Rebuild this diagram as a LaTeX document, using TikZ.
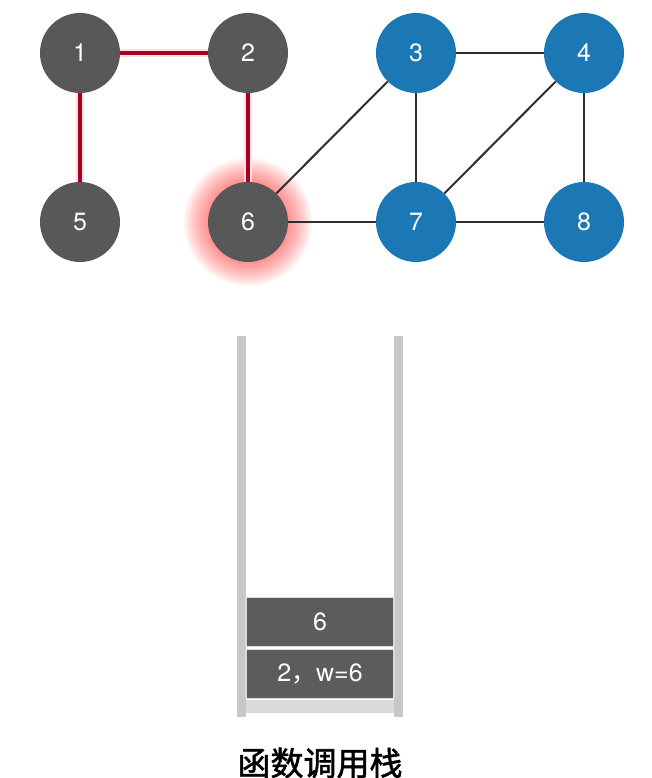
\documentclass[tikz,border=0pt]{standalone}
\usepackage{fontspec}
\setmainfont{TeX Gyre Heros}
\newfontfamily\cjk{Noto Sans CJK SC}[AutoFakeBold=1.6]
\usepackage{tikz}

\definecolor{nodegray}{RGB}{88,88,88}
\definecolor{nodeblue}{RGB}{27,120,180}
\definecolor{pathred}{RGB}{170,0,40}
\definecolor{edgegray}{RGB}{45,45,45}
\definecolor{wallgray}{RGB}{200,200,200}
\definecolor{floorgray}{RGB}{218,218,218}
\definecolor{framegray}{RGB}{92,92,92}

\tikzset{
  vgray/.style={circle, fill=nodegray, minimum size=80pt, inner sep=0pt, text=white, font=\fontsize{25}{30}\selectfont},
  vblue/.style={vgray, fill=nodeblue},
  edge/.style={line width=2pt, color=edgegray},
  redge/.style={line width=3.2pt, color=pathred},
  redhalo/.style={line width=8pt, color=red!12},
  frame/.style={fill=framegray, draw=floorgray, line width=1.5pt, minimum width=148pt, minimum height=49pt, inner sep=0pt, text=white, font=\fontsize{25}{30}\selectfont},
  wall/.style={line width=9pt, color=wallgray}
}

\begin{document}
\begin{tikzpicture}[x=1pt, y=-1pt]
	\useasboundingbox (0,0) rectangle (652,778);

	% glow round 6
	\coordinate (g6) at (248,222);
	\foreach \r in {64,62,...,40}
		\fill [red, opacity=0.045] (g6) circle (\r);

	\draw [redhalo] (80,53) -- (248,53);
	\draw [redhalo] (80,53) -- (80,222);
	\draw [redhalo] (248,53) -- (248,222);

	\node [vgray] (n1) at (80,53) {1};
	\node [vgray] (n2) at (248,53) {2};
	\node [vblue] (n3) at (416,53) {3};
	\node [vblue] (n4) at (584,53) {4};
	\node [vgray] (n5) at (80,222) {5};
	\node [vgray] (n6) at (g6) {6};
	\node [vblue] (n7) at (416,222) {7};
	\node [vblue] (n8) at (584,222) {8};

	\draw [redge] (n1) -- (n2);
	\draw [redge] (n1) -- (n5);
	\draw [redge] (n2) -- (n6);

	\draw [edge] (n3) -- (n4);
	\draw [edge] (n3) -- (n7);
	\draw [edge] (n3) -- (n6);
	\draw [edge] (n4) -- (n7);
	\draw [edge] (n4) -- (n8);
	\draw [edge] (n6) -- (n7);
	\draw [edge] (n7) -- (n8);

	% stack
	\fill [floorgray] (245,700) rectangle (394,713);
	\draw [wall] (241,336) -- (241,717);
	\draw [wall] (398,336) -- (398,717);

	\node [frame] (f2) at (320,674) {2{\cjk ，}w=6};
	\node [frame] (f1) at (320,622) {6};

	\node [font=\cjk\bfseries\fontsize{33}{36}\selectfont] (stk) at (320,763) {函数调用栈};
\end{tikzpicture}
\end{document}
